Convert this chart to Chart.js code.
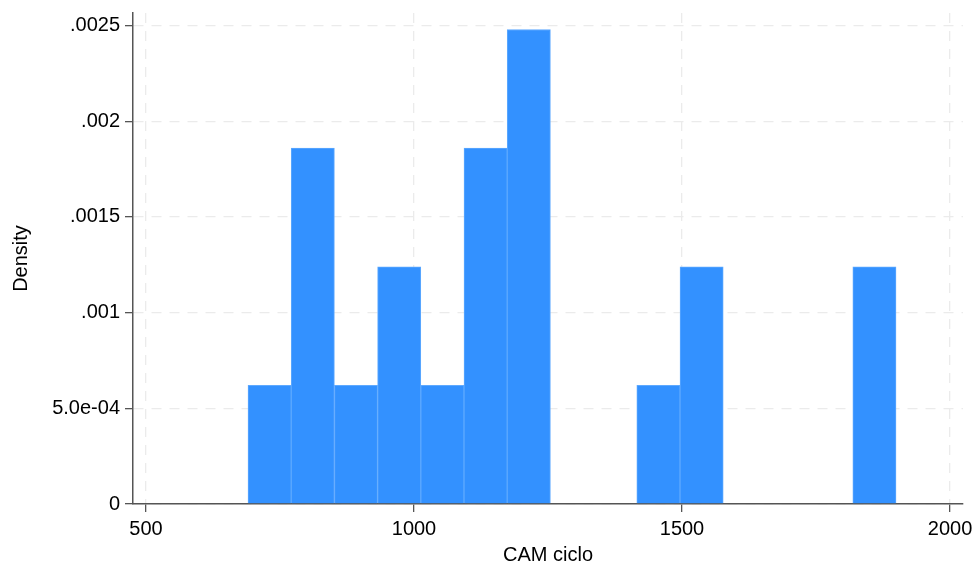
<!DOCTYPE html>
<html>
<head>
<meta charset="utf-8">
<script src="https://cdn.jsdelivr.net/npm/chart.js@4/dist/chart.umd.min.js"></script>
<style>
  html, body { margin: 0; padding: 0; background: #ffffff; }
  #wrap { width: 974px; height: 565px; position: relative; }
</style>
</head>
<body>
<div id="wrap"><canvas id="c" width="974" height="565"></canvas></div>
<script>
// Bin centers (CAM ciclo) and histogram densities
const binCenters = [730.6, 811.2, 891.8, 972.4, 1053.0, 1133.6, 1214.2, 1294.8, 1375.4, 1456.0, 1536.6, 1617.2, 1697.8, 1778.4, 1859.0];
const densities  = [0.00062, 0.00186, 0.00062, 0.00124, 0.00062, 0.00186, 0.00248, 0, 0, 0.00062, 0.00124, 0, 0, 0, 0.00124];

const xTickValues = [500, 1000, 1500, 2000];
const xTickLabels = ['500', '1000', '1500', '2000'];
const yTickValues = [0, 0.0005, 0.001, 0.0015, 0.002, 0.0025];
const yTickLabels = ['0', '5.0e-04', '.001', '.0015', '.002', '.0025'];

const xTitle = 'CAM ciclo';
const yTitle = 'Density';

const points = binCenters.map((c, i) => ({ x: c, y: densities[i] }));

const fontFamily = '"Liberation Sans", Arial, Helvetica, sans-serif';

new Chart(document.getElementById('c'), {
  type: 'bar',
  data: {
    datasets: [{
      data: points,
      backgroundColor: '#3391ff',
      borderColor: '#5ea9ff',
      borderWidth: 1,
      borderSkipped: 'bottom',
      barPercentage: 1,
      categoryPercentage: 1
    }]
  },
  options: {
    responsive: false,
    animation: false,
    devicePixelRatio: 1,
    layout: { padding: { top: 13, right: 11, left: 0, bottom: 0 } },
    plugins: { legend: { display: false }, tooltip: { enabled: false } },
    scales: {
      x: {
        type: 'linear',
        offset: false,
        min: 475.75,
        max: 2024.25,
        afterBuildTicks: (s) => { s.ticks = xTickValues.map(v => ({ value: v })); },
        afterFit: (s) => { s.height = 61; s.paddingLeft = 0; s.paddingRight = 0; },
        ticks: {
          autoSkip: false,
          maxRotation: 0,
          padding: 5,
          color: '#000',
          font: { family: fontFamily, size: 20 },
          callback: (v) => { const i = xTickValues.indexOf(v); return i >= 0 ? xTickLabels[i] : ''; }
        },
        grid: {
          offset: false,
          color: '#ebebeb',
          lineWidth: 1.3,
          tickColor: '#555',
          tickLength: 8,
          tickWidth: 1.3
        },
        border: { display: true, color: '#555', width: 1.5, dash: [10, 8] },
        title: {
          display: true,
          text: xTitle,
          color: '#000',
          font: { family: fontFamily, size: 20 },
          padding: { top: 0, bottom: -2 }
        }
      },
      y: {
        type: 'linear',
        min: 0,
        max: 0.002566,
        afterBuildTicks: (s) => { s.ticks = yTickValues.map(v => ({ value: v })); },
        afterFit: (s) => { s.width = 133; s.paddingTop = 0; s.paddingBottom = 0; },
        ticks: {
          autoSkip: false,
          padding: 5,
          color: '#000',
          font: { family: fontFamily, size: 20 },
          callback: (v) => {
            let i = yTickValues.findIndex(t => Math.abs(t - v) < 1e-9);
            return i >= 0 ? yTickLabels[i] : '';
          }
        },
        grid: {
          color: '#ebebeb',
          lineWidth: 1.3,
          tickColor: '#555',
          tickLength: 8,
          tickWidth: 1.3
        },
        border: { display: true, color: '#555', width: 1.5, dash: [10, 8] },
        title: {
          display: true,
          text: yTitle,
          color: '#000',
          font: { family: fontFamily, size: 20 },
          padding: { top: 9, bottom: 0 }
        }
      }
    }
  }
});
</script>
</body>
</html>
